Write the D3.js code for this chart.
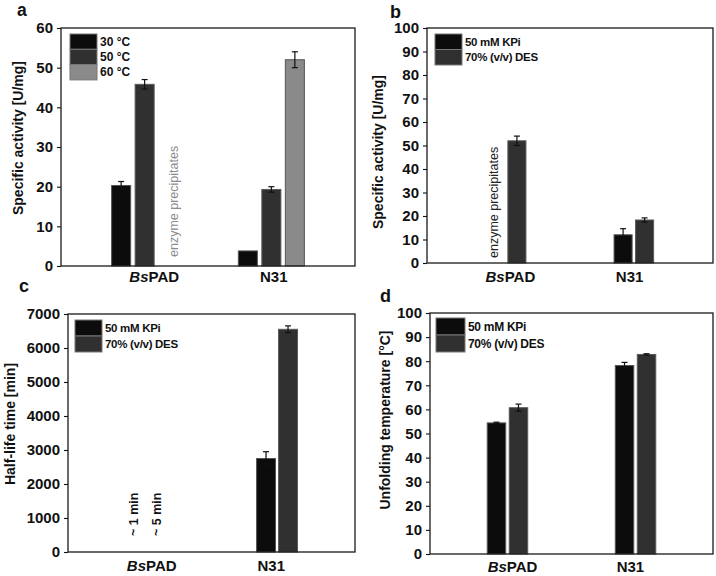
<!DOCTYPE html>
<html><head><meta charset="utf-8">
<script src="https://cdn.jsdelivr.net/npm/d3@7"></script>
<style>
body{margin:0;background:#fff}
text{font-family:"Liberation Sans",Arial,Helvetica,sans-serif}
</style>
</head><body>
<svg id="chart" width="716" height="576"></svg>
<script>
// ---------------- DATA ----------------
const categories = ["BsPAD", "N31"];

// Panel a: specific activity at different temperatures
const seriesA = ["30 °C", "50 °C", "60 °C"];
const a30 = [20.3, 3.8],  a30Err = [1.0, 0];
const a50 = [45.8, 19.3], a50Err = [1.2, 0.7];
const a60 = [null, 52.0], a60Err = [null, 2.0];
const ticksA = [0, 10, 20, 30, 40, 50, 60];

// Panel b: specific activity in buffer vs DES
const seriesB = ["50 mM KPi", "70% (v/v) DES"];
const bKPi = [null, 12.0], bKPiErr = [null, 2.6];
const bDES = [52.0, 18.3], bDESErr = [2.0, 0.9];
const ticksB = [0, 10, 20, 30, 40, 50, 60, 70, 80, 90, 100];

// Panel c: half-life time
const seriesC = ["50 mM KPi", "70% (v/v) DES"];
const cKPi = [null, 2750], cKPiErr = [null, 200];
const cDES = [null, 6550], cDESErr = [null, 100];
const cNotes = ["~ 1 min", "~ 5 min"];
const ticksC = [0, 1000, 2000, 3000, 4000, 5000, 6000, 7000];

// Panel d: unfolding temperature
const seriesD = ["50 mM KPi", "70% (v/v) DES"];
const dKPi = [54.4, 78.2], dKPiErr = [0.3, 1.3];
const dDES = [60.7, 82.8], dDESErr = [1.5, 0.3];
const ticksD = [0, 10, 20, 30, 40, 50, 60, 70, 80, 90, 100];

const precipNote = "enzyme precipitates";

// ---------------- STYLE ----------------
const C_BLACK = "#0c0c0c", C_DARK = "#303030", C_GREY = "#8a8a8a";
const svg = d3.select("#chart");
const FONT = '"Liberation Sans",Arial,Helvetica,sans-serif';

function panel(cfg) {
  const g = svg.append("g");
  const n = cfg.series.length;
  const x = d3.scalePoint().domain(categories).range([cfg.l, cfg.r]).padding(cfg.pad);
  const xl = d3.scalePoint().domain(categories).range([cfg.l + cfg.lshift, cfg.r + cfg.lshift]).padding(cfg.lpad);
  const inner = d3.scaleBand().domain(cfg.series)
    .range([-cfg.slot * n / 2, cfg.slot * n / 2])
    .paddingInner(cfg.bpad).paddingOuter(cfg.bpad / 2);
  const y = d3.scaleLinear().domain([0, d3.max(cfg.ticks)]).range([cfg.b, cfg.t]);

  // y axis
  const ax = g.append("g").attr("transform", `translate(${cfg.l},0)`)
    .call(d3.axisLeft(y).tickValues(cfg.ticks).tickSize(4).tickPadding(4).tickFormat(d3.format("d")));
  ax.select(".domain").remove();
  ax.selectAll(".tick line").attr("stroke", "#111").attr("stroke-width", 1.1);
  ax.selectAll(".tick text").attr("font-family", FONT).attr("font-size", 15)
    .attr("font-weight", "bold").attr("fill", "#111");

  // bars + error bars
  cfg.series.forEach((s, i) => {
    categories.forEach((c, j) => {
      const v = cfg.values[i][j];
      if (v == null) return;
      const x0 = x(c) + inner(s);
      const w = inner.bandwidth();
      g.append("rect").attr("x", x0).attr("y", y(v)).attr("width", w).attr("height", y(0) - y(v))
        .attr("fill", cfg.colors[i]).attr("stroke", cfg.strokes[i]).attr("stroke-width", 1);
      const e = cfg.errors[i][j];
      if (e) {
        const cx = x0 + w / 2;
        g.append("line").attr("x1", cx).attr("x2", cx).attr("y1", y(v - e)).attr("y2", y(v + e))
          .attr("stroke", "#111").attr("stroke-width", 1.2);
        [v - e, v + e].forEach(t => g.append("line").attr("x1", cx - 3).attr("x2", cx + 3)
          .attr("y1", y(t)).attr("y2", y(t)).attr("stroke", "#111").attr("stroke-width", 1.2));
      }
    });
  });

  // frame
  g.append("rect").attr("x", cfg.l).attr("y", cfg.t).attr("width", cfg.r - cfg.l).attr("height", cfg.b - cfg.t)
    .attr("fill", "none").attr("stroke", "#1a1a1a").attr("stroke-width", 1.3);

  // category labels
  categories.forEach(c => {
    const t = g.append("text").attr("x", xl(c)).attr("y", cfg.b + cfg.lab)
      .attr("text-anchor", "middle").attr("font-size", 15).attr("font-weight", "bold").attr("fill", "#111");
    if (c === "BsPAD") {
      t.append("tspan").attr("font-style", "italic").text("Bs");
      t.append("tspan").text("PAD");
    } else t.text(c);
  });

  // y title
  g.append("text").attr("transform", `translate(${cfg.tx},${cfg.ty}) rotate(-90)`)
    .attr("text-anchor", "middle").attr("dy", "0.35em").attr("font-size", 14)
    .attr("font-weight", "bold").attr("fill", "#111").text(cfg.title);

  // panel letter
  g.append("text").attr("x", cfg.px).attr("y", cfg.py).attr("font-size", cfg.pfs || 19)
    .attr("font-weight", "bold").attr("fill", "#111").text(cfg.letter);

  // legend
  cfg.series.forEach((s, i) => {
    const yy = cfg.leg.y + i * cfg.leg.h;
    g.append("rect").attr("x", cfg.leg.x).attr("y", yy).attr("width", cfg.leg.w).attr("height", cfg.leg.h)
      .attr("fill", cfg.colors[i]).attr("stroke", "#777").attr("stroke-width", 1);
    g.append("text").attr("x", cfg.leg.x + cfg.leg.w + 3).attr("y", yy + cfg.leg.h / 2).attr("dy", "0.35em")
      .attr("font-size", cfg.leg.fs).attr("font-weight", "bold").attr("fill", "#111")
      .attr("letter-spacing", cfg.leg.ls || 0).text(s);
  });

  // annotations
  (cfg.notes || []).forEach(nt => {
    const cx = x(nt.cat) + inner(nt.series) + inner.bandwidth() / 2 + (nt.dx || 0);
    g.append("text").attr("transform", `translate(${cx},${nt.y}) rotate(-90)`)
      .attr("dy", "0.35em").attr("text-anchor", "start").attr("font-size", nt.fs)
      .attr("font-weight", nt.fw).attr("fill", nt.color).text(nt.text);
  });
}

// Panel a
panel({
  letter: "a", px: 17, py: 16, pfs: 17.5,
  series: seriesA, values: [a30, a50, a60], errors: [a30Err, a50Err, a60Err],
  colors: [C_BLACK, C_DARK, C_GREY], strokes: ["#555", "#5a5a5a", "#555"],
  ticks: ticksA, l: 61, r: 355, t: 28, b: 266, pad: 0.66, lpad: 0.73, lshift: 6,
  slot: 23.5, bpad: 0.19, lab: 16,
  title: "Specific activity [U/mg]", tx: 18, ty: 138,
  leg: { x: 70, y: 34, w: 27, h: 15.3, fs: 12 },
  notes: [{ cat: "BsPAD", series: "60 °C", y: 257, text: precipNote, fs: 12.5, fw: "normal", color: "#8c8c8c", dx: 5 }]
});

// Panel b
panel({
  letter: "b", px: 390, py: 18, pfs: 18,
  series: seriesB, values: [bKPi, bDES], errors: [bKPiErr, bDESErr],
  colors: [C_BLACK, C_DARK], strokes: ["#555", "#5a5a5a"],
  ticks: ticksB, l: 427, r: 713, t: 28, b: 263, pad: 0.62, lpad: 0.70, lshift: 0,
  slot: 21.5, bpad: 0.16, lab: 19,
  title: "Specific activity [U/mg]", tx: 378, ty: 152,
  leg: { x: 435, y: 34, w: 27, h: 15.5, fs: 11.5, ls: -0.3 },
  notes: [{ cat: "BsPAD", series: "50 mM KPi", y: 258, text: precipNote, fs: 12.5, fw: "normal", color: "#222", dx: -2 }]
});

// Panel c
panel({
  letter: "c", px: 19, py: 292, pfs: 18,
  series: seriesC, values: [cKPi, cDES], errors: [cKPiErr, cDESErr],
  colors: [C_BLACK, C_DARK], strokes: ["#555", "#5a5a5a"],
  ticks: ticksC, l: 68, r: 355, t: 314, b: 552, pad: 0.595, lpad: 0.70, lshift: 0,
  slot: 22, bpad: 0.14, lab: 19,
  title: "Half-life time [min]", tx: 10, ty: 424,
  leg: { x: 75, y: 320, w: 27, h: 16, fs: 11.5, ls: -0.3 },
  notes: [
    { cat: "BsPAD", series: "50 mM KPi", y: 536, text: cNotes[0], fs: 12.5, fw: "bold", color: "#111", dx: -1 },
    { cat: "BsPAD", series: "70% (v/v) DES", y: 536, text: cNotes[1], fs: 12.5, fw: "bold", color: "#111", dx: 0 }
  ]
});

// Panel d
panel({
  letter: "d", px: 380, py: 302, pfs: 18,
  series: seriesD, values: [dKPi, dDES], errors: [dKPiErr, dDESErr],
  colors: [C_BLACK, C_DARK], strokes: ["#555", "#5a5a5a"],
  ticks: ticksD, l: 430, r: 713, t: 313, b: 554, pad: 0.605, lpad: 0.70, lshift: 0,
  slot: 22, bpad: 0.16, lab: 18,
  title: "Unfolding temperature [°C]", tx: 385, ty: 420,
  leg: { x: 436, y: 318, w: 29, h: 17, fs: 12, ls: -0.3 }
});
</script>
</body></html>
